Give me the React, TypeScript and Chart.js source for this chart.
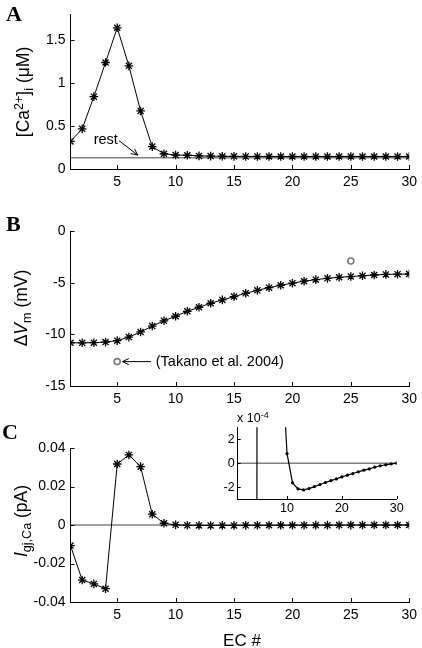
import React, { useEffect, useRef } from "react";
import { Chart, registerables } from "chart.js";

Chart.register(...registerables);

// ---------- data ----------
const ecNumbers = [1, 2, 3, 4, 5, 6, 7, 8, 9, 10, 11, 12, 13, 14, 15, 16, 17, 18, 19, 20, 21, 22, 23, 24, 25, 26, 27, 28, 29, 30];
const xTicks = [5, 10, 15, 20, 25, 30];

// Panel A: [Ca2+]i (uM)
const caValues = [0.32, 0.466, 0.84, 1.237, 1.64, 1.198, 0.674, 0.26, 0.177, 0.162, 0.16, 0.152, 0.15, 0.148, 0.147, 0.146, 0.146, 0.145, 0.145, 0.145, 0.145, 0.145, 0.145, 0.145, 0.145, 0.145, 0.145, 0.145, 0.145, 0.145];
const caRest = 0.13;
const caTicks = [0, 0.5, 1, 1.5];
const caTickLabels = ["0", "0.5", "1", "1.5"];

// Panel B: dVm (mV)
const vmValues = [-10.82, -10.82, -10.81, -10.75, -10.61, -10.27, -9.77, -9.2, -8.69, -8.25, -7.77, -7.38, -6.99, -6.67, -6.35, -6.03, -5.74, -5.48, -5.25, -5.05, -4.86, -4.71, -4.58, -4.48, -4.41, -4.33, -4.26, -4.2, -4.18, -4.16];
const takanoX = [5, 25];
const takanoY = [-12.64, -2.9];
const vmTicks = [-15, -10, -5, 0];
const vmTickLabels = ["-15", "-10", "-5", "0"];

// Panel C: I gj,Ca (pA)
const igjValues = [-0.0107, -0.0286, -0.0306, -0.0331, 0.0317, 0.0364, 0.0303, 0.0056, 0.0009, 0.000079, -0.000165, -0.000215, -0.000224, -0.000213, -0.000196, -0.000179, -0.000162, -0.000146, -0.000132, -0.000115, -0.000101, -0.000087, -0.000073, -0.000059, -0.000048, -0.000034, -0.000022, -0.000014, -0.000006, 0.0];
const igjTicks = [-0.04, -0.02, 0, 0.02, 0.04];
const igjTickLabels = ["-0.04", "-0.02", "0", "0.02", "0.04"];

// Inset (x 10^-4)
const insetXTicks = [10, 20, 30];
const insetYTicks = [-0.0002, 0, 0.0002];
const insetYTickLabels = ["-2", "0", "2"];

// ---------- helpers ----------
const FONT = "'Liberation Sans', Arial, Helvetica, sans-serif";
const SERIF = "'Liberation Serif', 'Times New Roman', serif";

function pts(xs: number[], ys: number[]) {
  return xs.map((x, i) => ({ x, y: ys[i] }));
}

function xScale(ticks: number[], padding: number, size: number, height: number) {
  return {
    type: "linear",
    min: 1,
    max: 30,
    afterBuildTicks: (s: any) => {
      s.ticks = ticks.map((v) => ({ value: v }));
    },
    afterFit: (s: any) => {
      s.height = height;
    },
    grid: { display: false, drawTicks: false },
    border: { display: true, color: "#000", width: 1 },
    ticks: {
      padding,
      color: "#000",
      autoSkip: false,
      maxRotation: 0,
      font: { family: FONT, size },
      callback: (v: any) => String(v),
    },
  };
}

function yScale(min: number, max: number, ticks: number[], labels: string[], padding: number, size: number, width: number) {
  return {
    type: "linear",
    min,
    max,
    afterBuildTicks: (s: any) => {
      s.ticks = ticks.map((v) => ({ value: v }));
    },
    afterFit: (s: any) => {
      s.width = width;
    },
    grid: { display: false, drawTicks: false },
    border: { display: true, color: "#000", width: 1 },
    ticks: {
      padding,
      color: "#000",
      autoSkip: false,
      font: { family: FONT, size },
      callback: (_v: any, i: number) => labels[i],
    },
  };
}

function inwardTicks(len: number) {
  return {
    id: "inwardTicks",
    afterDraw(chart: any) {
      const { ctx, chartArea, scales } = chart;
      ctx.save();
      ctx.strokeStyle = "#000";
      ctx.lineWidth = 1;
      ctx.beginPath();
      for (const t of scales.x.ticks) {
        const px = Math.round(scales.x.getPixelForValue(t.value)) + 0.5;
        ctx.moveTo(px, chartArea.bottom);
        ctx.lineTo(px, chartArea.bottom - len);
      }
      for (const t of scales.y.ticks) {
        const py = Math.round(scales.y.getPixelForValue(t.value)) + 0.5;
        ctx.moveTo(chartArea.left, py);
        ctx.lineTo(chartArea.left + len, py);
      }
      ctx.stroke();
      ctx.restore();
    },
  };
}

function arrow(ctx: any, x0: number, y0: number, x1: number, y1: number, head: number) {
  const a = Math.atan2(y1 - y0, x1 - x0);
  ctx.beginPath();
  ctx.moveTo(x0, y0);
  ctx.lineTo(x1, y1);
  ctx.moveTo(x1 - head * Math.cos(a - 0.45), y1 - head * Math.sin(a - 0.45));
  ctx.lineTo(x1, y1);
  ctx.lineTo(x1 - head * Math.cos(a + 0.45), y1 - head * Math.sin(a + 0.45));
  ctx.stroke();
}

function annotation(text: string, tx: number, ty: number, align: string, from: [number, number], to: [number, number], size: number) {
  return {
    id: "annot",
    afterDraw(chart: any) {
      const { ctx, scales } = chart;
      const X = (v: number) => scales.x.getPixelForValue(v);
      const Y = (v: number) => scales.y.getPixelForValue(v);
      ctx.save();
      ctx.fillStyle = "#000";
      ctx.strokeStyle = "#000";
      ctx.lineWidth = 1;
      ctx.font = `${size}px ${FONT}`;
      ctx.textAlign = align;
      ctx.textBaseline = "middle";
      ctx.fillText(text, X(tx), Y(ty));
      arrow(ctx, X(from[0]), Y(from[1]), X(to[0]), Y(to[1]), 7);
      ctx.restore();
    },
  };
}

const starLine = (data: any[]) => ({
  data,
  borderColor: "#000",
  borderWidth: 1,
  pointStyle: "star",
  pointRadius: 4.3,
  pointBorderColor: "#000",
  pointBorderWidth: 1.3,
  pointBackgroundColor: "#000",
  tension: 0,
});

const refLine = (y: number) => ({
  data: [
    { x: 1, y },
    { x: 30, y },
  ],
  borderColor: "#808080",
  borderWidth: 1.5,
  pointRadius: 0,
});

function baseOptions(padding: any, x: any, y: any) {
  return {
    responsive: false,
    animation: false,
    devicePixelRatio: 1,
    events: [],
    layout: { padding },
    plugins: { legend: { display: false }, tooltip: { enabled: false }, title: { display: false } },
    scales: { x, y },
  };
}

function configA() {
  return {
    type: "line",
    data: { datasets: [starLine(pts(ecNumbers, caValues)), refLine(caRest)] },
    options: baseOptions(
      { top: 14, bottom: 6, left: 0, right: 9 },
      xScale(xTicks, 5, 14, 25),
      yScale(0, 1.8, caTicks, caTickLabels, 5, 14, 70.5)
    ),
    plugins: [inwardTicks(4), annotation("rest", 5.05, 0.34, "right", [5.15, 0.33], [6.75, 0.162], 14.5)],
  };
}

function configB() {
  return {
    type: "line",
    data: {
      datasets: [
        starLine(pts(ecNumbers, vmValues)),
        {
          data: pts(takanoX, takanoY),
          showLine: false,
          pointStyle: "circle",
          pointRadius: 3,
          pointBorderWidth: 1.6,
          pointBorderColor: "#7a7a7a",
          pointBackgroundColor: "#fff",
        },
      ],
    },
    options: baseOptions(
      { top: 31, bottom: 4, left: 0, right: 9 },
      xScale(xTicks, 5, 14, 25),
      yScale(-15, 0, vmTicks, vmTickLabels, 5, 14, 70.5)
    ),
    plugins: [inwardTicks(4), annotation("(Takano et al. 2004)", 8.3, -12.64, "left", [7.9, -12.64], [5.45, -12.64], 14.5)],
  };
}

function configC() {
  return {
    type: "line",
    data: { datasets: [starLine(pts(ecNumbers, igjValues)), refLine(0)] },
    options: baseOptions(
      { top: 33, bottom: 21, left: 0, right: 9 },
      xScale(xTicks, 5, 14, 25),
      yScale(-0.04, 0.04, igjTicks, igjTickLabels, 5, 14, 70.5)
    ),
    plugins: [inwardTicks(4)],
  };
}

function configInset() {
  return {
    type: "line",
    data: {
      datasets: [
        {
          data: pts(ecNumbers, igjValues),
          borderColor: "#000",
          borderWidth: 1.2,
          pointStyle: "circle",
          pointRadius: 1.6,
          pointBorderWidth: 0,
          pointBackgroundColor: "#000",
          tension: 0,
        },
        refLine(0),
      ],
    },
    options: baseOptions(
      { top: 17.3, bottom: 3, left: 0, right: 15.3 },
      xScale(insetXTicks, 2, 12.5, 18),
      yScale(-0.0003, 0.0003, insetYTicks, insetYTickLabels, 3, 12.5, 47.7)
    ),
    plugins: [inwardTicks(3)],
  };
}

function ChartCanvas({ make, left, top, width, height }: any) {
  const ref = useRef<HTMLCanvasElement | null>(null);
  useEffect(() => {
    const chart = new Chart(ref.current as any, make());
    return () => chart.destroy();
  }, []);
  return <canvas ref={ref} width={width} height={height} style={{ position: "absolute", left, top, width, height }} />;
}

function RotLabel({ x, y, children }: any) {
  return (
    <div
      style={{
        position: "absolute",
        left: x,
        top: y,
        transform: "translate(-50%, -50%) rotate(-90deg)",
        whiteSpace: "nowrap",
        fontFamily: FONT,
        fontSize: 17.5,
        lineHeight: 1,
        color: "#000",
      }}
    >
      {children}
    </div>
  );
}

const sup = (t: string) => <span style={{ fontSize: "0.72em", position: "relative", top: "-0.5em" }}>{t}</span>;
const sub = (t: string) => <span style={{ fontSize: "0.72em", position: "relative", top: "0.3em" }}>{t}</span>;

function Letter({ x, y, children }: any) {
  return (
    <div style={{ position: "absolute", left: x, top: y, fontFamily: SERIF, fontWeight: "bold", fontSize: 22, lineHeight: 1, color: "#000" }}>
      {children}
    </div>
  );
}

export default function App() {
  return (
    <div style={{ position: "absolute", left: 0, top: 0, width: 422, height: 648, background: "#fff", overflow: "hidden" }}>
      <ChartCanvas make={configA} left={0} top={0} width={422} height={200} />
      <ChartCanvas make={configB} left={0} top={200} width={422} height={215} />
      <ChartCanvas make={configC} left={0} top={415} width={422} height={233} />
      <ChartCanvas make={configInset} left={190} top={410} width={222} height={110} />

      <Letter x={6} y={3}>A</Letter>
      <Letter x={6} y={213}>B</Letter>
      <Letter x={2} y={421}>C</Letter>

      <RotLabel x={24} y={92}>
        [Ca{sup("2+")}]{sub("i")} (μM)
      </RotLabel>
      <RotLabel x={22} y={308}>
        Δ<i>V</i>
        {sub("m")} (mV)
      </RotLabel>
      <RotLabel x={22} y={521}>
        <i>I</i>
        {sub("gj,Ca")} (pA)
      </RotLabel>

      <div style={{ position: "absolute", left: 242, top: 640, transform: "translate(-50%, -50%)", fontFamily: FONT, fontSize: 17, lineHeight: 1, whiteSpace: "nowrap" }}>
        EC #
      </div>
      <div style={{ position: "absolute", left: 237, top: 412, fontFamily: FONT, fontSize: 12.5, lineHeight: 1, whiteSpace: "nowrap" }}>
        x 10{sup("-4")}
      </div>
    </div>
  );
}
